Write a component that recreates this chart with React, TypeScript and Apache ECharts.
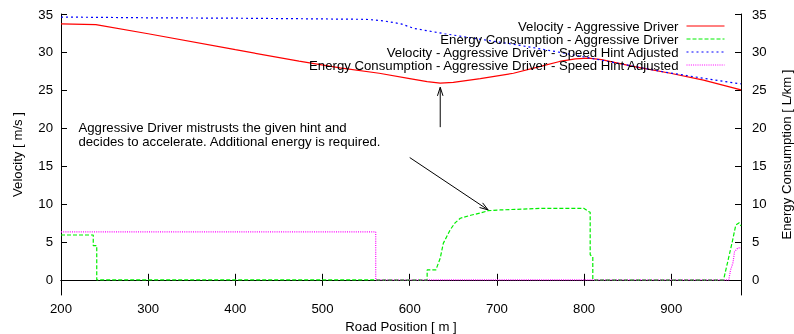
import React, { useEffect, useRef } from 'react';
import * as echarts from 'echarts';

const xTicks = [200, 300, 400, 500, 600, 700, 800, 900];
const yTicks = [0, 5, 10, 15, 20, 25, 30, 35];

const seriesNames = [
  'Velocity - Aggressive Driver',
  'Energy Consumption - Aggressive Driver',
  'Velocity - Aggressive Driver - Speed Hint Adjusted',
  'Energy Consumption - Aggressive Driver - Speed Hint Adjusted',
];

const velAggPos = [200, 240, 300, 400, 473, 520, 565, 600, 620, 635, 650, 681, 719, 750, 772, 790, 805, 820, 856, 899, 937, 980];
const velAggVal = [33.7, 33.6, 32.4, 30.3, 28.8, 27.9, 27.2, 26.5, 26.1, 25.9, 26.0, 26.5, 27.2, 28.1, 28.75, 29.1, 29.2, 29.0, 28.1, 27.2, 26.3, 25.0];

const energyAggPos = [200, 237, 237, 241, 241, 620, 620, 630, 635, 638.5, 646.5, 652, 658, 670, 681, 690, 704, 750, 800, 805, 807, 807, 810, 810, 960, 970, 974, 978, 980];
const energyAggVal = [5.9, 5.9, 4.5, 4.5, 0, 0, 1.3, 1.3, 2.85, 4.8, 6.6, 7.5, 8.1, 8.5, 8.8, 9.1, 9.2, 9.4, 9.4, 9.0, 8.9, 3.3, 3.0, 0, 0, 5.0, 7.2, 7.5, 7.1];

const velHintPos = [200, 300, 400, 500, 550, 570, 590, 605, 640, 680, 720, 770, 830, 890, 950, 980];
const velHintVal = [34.6, 34.5, 34.45, 34.35, 34.3, 34.1, 33.7, 33.1, 32.4, 31.7, 31.0, 30.0, 28.7, 27.4, 26.3, 25.8];

const energyHintPos = [200, 561, 561, 966, 968, 970.7, 972.6, 976.4, 980];
const energyHintVal = [6.3, 6.3, 0, 0, 1.3, 2.2, 3.7, 4.2, 4.2];

const noteLines = [
  'Aggressive Driver mistrusts the given hint and',
  'decides to accelerate. Additional energy is required.',
];
const notePos = [220, 20.0];
const noteLine2Pos = [220, 18.15];
const arrow1 = [[635, 20.1], [635, 25.35]];
const arrow2 = [[600, 16.1], [690, 9.2]];

const FONT = 'Liberation Sans, Arial, Helvetica, sans-serif';
const FS = 13.2;

function zip(p: number[], v: number[]) {
  return p.map((x, i) => [x, v[i]]);
}

export default function App() {
  const ref = useRef<HTMLDivElement>(null);
  useEffect(() => {
    const chart = echarts.init(ref.current!, null, { renderer: 'svg' });
    const axisLine = { show: true, lineStyle: { color: '#000', width: 1 } };
    const yAxisCommon = {
      type: 'value',
      min: -2,
      max: 35,
      axisLine,
      splitLine: { show: false },
      axisTick: { show: true, inside: true, length: 6, lineStyle: { color: '#000' }, customValues: yTicks },
      axisLabel: { color: '#000', fontSize: FS, fontFamily: FONT, margin: 8, customValues: yTicks },
      nameLocation: 'middle',
      nameRotate: 90,
      nameTextStyle: { color: '#000', fontSize: FS, fontFamily: FONT },
    };
    const lineBase = { type: 'line', symbol: 'none', showSymbol: false, smooth: false };
    chart.setOption({
      animation: false,
      textStyle: { fontFamily: FONT },
      grid: { left: 61, right: 53, top: 14, bottom: 39, containLabel: false, outerBoundsMode: 'none' },
      legend: {
        orient: 'vertical',
        align: 'right',
        right: 69,
        top: 19.5,
        padding: 0,
        itemWidth: 38,
        itemHeight: 13,
        itemGap: 0,
        itemStyle: { opacity: 0 },
        lineStyle: { width: 1 },
        textStyle: { color: '#000', fontSize: FS, fontFamily: FONT, lineHeight: 13, padding: [0, 3, 0, 0] },
        data: seriesNames,
      },
      xAxis: [
        {
          type: 'value',
          min: 200,
          max: 980,
          position: 'bottom',
          axisLine,
          splitLine: { show: false },
          axisTick: { show: true, inside: true, length: 6, lineStyle: { color: '#000' }, customValues: xTicks },
          axisLabel: { color: '#000', fontSize: FS, fontFamily: FONT, margin: 7, customValues: xTicks },
          name: 'Road Position [ m ]',
          nameLocation: 'middle',
          nameGap: 25,
          nameTextStyle: { color: '#000', fontSize: FS, fontFamily: FONT },
        },
        {
          type: 'value',
          min: 200,
          max: 980,
          position: 'top',
          axisLine,
          splitLine: { show: false },
          axisTick: { show: true, inside: true, length: 6, lineStyle: { color: '#000' }, customValues: xTicks },
          axisLabel: { show: false },
        },
      ],
      yAxis: [
        { ...yAxisCommon, position: 'left', name: 'Velocity [ m/s ]', nameGap: 37 },
        { ...yAxisCommon, position: 'right', name: 'Energy Consumption [ L/km ]', nameGap: 39, axisLabel: { ...yAxisCommon.axisLabel, margin: 11 } },
      ],
      series: [
        { ...lineBase, name: seriesNames[0], yAxisIndex: 0, data: zip(velAggPos, velAggVal), lineStyle: { color: '#ff0000', width: 1.2, type: 'solid' }, itemStyle: { color: '#ff0000' } },
        { ...lineBase, name: seriesNames[1], yAxisIndex: 1, data: zip(energyAggPos, energyAggVal), lineStyle: { color: '#00ee00', width: 1.2, type: [4, 2] }, itemStyle: { color: '#00ee00' } },
        { ...lineBase, name: seriesNames[2], yAxisIndex: 0, data: zip(velHintPos, velHintVal), lineStyle: { color: '#0000ff', width: 1.2, type: [2, 3] }, itemStyle: { color: '#0000ff' } },
        { ...lineBase, name: seriesNames[3], yAxisIndex: 1, data: zip(energyHintPos, energyHintVal), lineStyle: { color: '#ff00ff', width: 1.2, type: [1, 1.2] }, itemStyle: { color: '#ff00ff' } },
      ],
    });

    const px = (p: number[]) => chart.convertToPixel({ xAxisIndex: 0, yAxisIndex: 0 }, p) as number[];
    const arrowEls = (a: number[][]) => {
      const t = px(a[0]);
      const h = px(a[1]);
      const dx = h[0] - t[0];
      const dy = h[1] - t[1];
      const len = Math.sqrt(dx * dx + dy * dy);
      const ux = dx / len;
      const uy = dy / len;
      const L = 9;
      const ang = (18 * Math.PI) / 180;
      const c = Math.cos(ang);
      const s = Math.sin(ang);
      const w1 = [h[0] - L * (ux * c - uy * s), h[1] - L * (uy * c + ux * s)];
      const w2 = [h[0] - L * (ux * c + uy * s), h[1] - L * (uy * c - ux * s)];
      return [
        { type: 'line', shape: { x1: t[0], y1: t[1], x2: h[0], y2: h[1] }, style: { stroke: '#000', lineWidth: 1 }, silent: true },
        { type: 'polyline', shape: { points: [w1, h, w2] }, style: { stroke: '#000', lineWidth: 1, fill: null }, silent: true },
      ];
    };
    const n1 = px(notePos);
    const n2 = px(noteLine2Pos);
    chart.setOption({
      graphic: [
        { type: 'text', x: n1[0], y: n1[1], style: { text: noteLines[0], fill: '#000', font: `${FS}px ${FONT}`, verticalAlign: 'middle', align: 'left' }, silent: true },
        { type: 'text', x: n2[0], y: n2[1], style: { text: noteLines[1], fill: '#000', font: `${FS}px ${FONT}`, verticalAlign: 'middle', align: 'left' }, silent: true },
        ...arrowEls(arrow1),
        ...arrowEls(arrow2),
      ],
    });
    return () => chart.dispose();
  }, []);
  return <div ref={ref} style={{ position: 'fixed', left: 0, top: 0, width: 794, height: 334 }} />;
}
